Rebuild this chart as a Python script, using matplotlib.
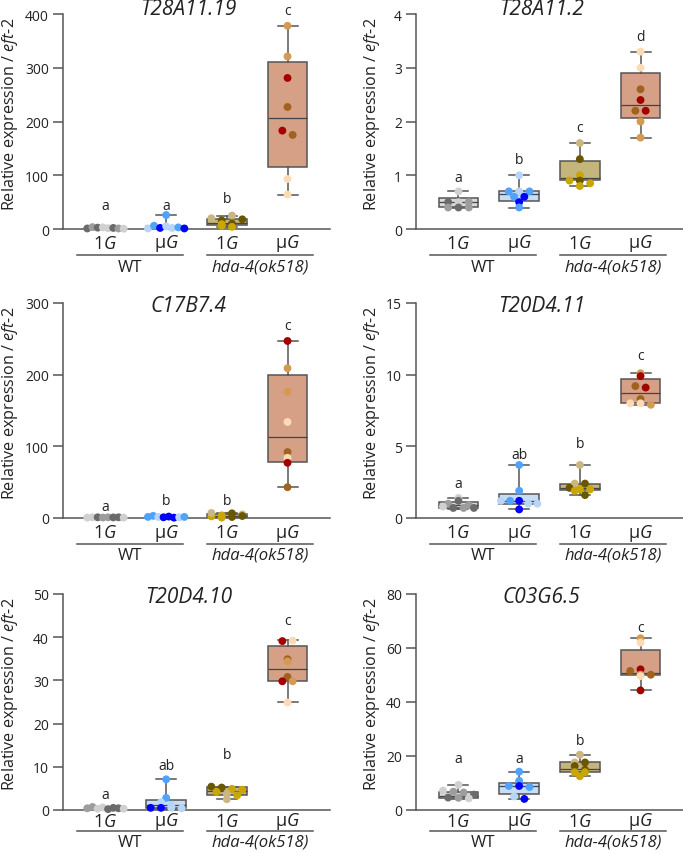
import numpy as np
import matplotlib
matplotlib.use("Agg")
import matplotlib.pyplot as plt

plt.rcParams['font.family'] = ['Open Sans', 'DejaVu Sans']
plt.rcParams['mathtext.fontset'] = 'custom'
plt.rcParams['mathtext.rm'] = 'Open Sans'
plt.rcParams['mathtext.it'] = 'Open Sans:italic'

# ---- data ----
groups = ['1$\\it{G}$', 'μ$\\it{G}$', '1$\\it{G}$', 'μ$\\it{G}$']
genotypes = ['WT', 'hda-4(ok518)']

titles = ['T28A11.19', 'T28A11.2', 'C17B7.4', 'T20D4.11', 'T20D4.10', 'C03G6.5']
y_max = [400, 4, 300, 15, 50, 80]
y_step = [100, 1, 100, 5, 10, 20]

# per panel: points of each group, replicate id of each point,
# box stats (min, q1, median, q3, max) and significance letters
t28a11_19_vals = [[1.0, 3.5, 2.5, 3.0, 1.5, 2.0, 1.0, 0.5],
                  [1, 6, 2, 26, 5, 2, 3, 1],
                  [6, 20, 16, 25, 9, 10, 18, 4],
                  [378, 321, 281, 227, 183, 175, 93, 64]]
t28a11_19_reps = [[0, 1, 0, 2, 2, 0, 1, 2], [2, 1, 0, 1, 2, 2, 1, 0],
                  [1, 2, 0, 2, 1, 0, 0, 1], [2, 2, 0, 1, 0, 1, 3, 3]]
t28a11_19_box = [[0.5, 1, 2, 3, 3.5], [1, 1.5, 2.5, 5, 26],
                 [4, 8, 12, 18, 25], [64, 115, 206, 310, 378]]
t28a11_19_letters = [('a', 43), ('a', 43), ('b', 56), ('c', 407)]

t28a11_2_vals = [[0.7, 0.5, 0.5, 0.5, 0.4, 0.4, 0.4],
                 [1.0, 0.7, 0.7, 0.7, 0.6, 0.6, 0.5, 0.4],
                 [1.6, 1.3, 1.0, 0.9, 0.9, 0.85, 0.8],
                 [3.3, 3.0, 2.6, 2.4, 2.2, 2.2, 2.0, 1.7]]
t28a11_2_reps = [[2, 0, 2, 1, 1, 0, 1], [2, 1, 2, 1, 1, 0, 0, 1],
                 [2, 0, 1, 1, 0, 1, 1], [3, 3, 1, 0, 1, 0, 2, 2]]
t28a11_2_box = [[0.4, 0.41, 0.5, 0.57, 0.7], [0.4, 0.53, 0.66, 0.7, 1.0],
                [0.8, 0.91, 0.95, 1.27, 1.6], [1.7, 2.06, 2.3, 2.9, 3.3]]
t28a11_2_letters = [('a', 0.95), ('b', 1.29), ('c', 1.89), ('d', 3.59)]

c17b7_4_vals = [[0.5, 1.0, 1.0, 0.6, 1.0, 0.8, 1.0, 0.5],
                [1.5, 3.0, 1.5, 1.0, 2.0, 0.5, 1.0, 1.5],
                [2.3, 7, 3.7, 6.5, 0.5, 5, 1.4, 2.8],
                [247, 209, 176, 134, 92, 84, 77, 43]]
c17b7_4_reps = [[2, 2, 0, 1, 1, 0, 0, 2], [1, 1, 2, 0, 0, 0, 2, 1],
                [1, 2, 1, 0, 1, 2, 0, 0], [0, 2, 2, 3, 1, 3, 0, 1]]
c17b7_4_box = [[0.5, 0.5, 0.9, 1.0, 1.0], [0.5, 1.0, 1.5, 1.8, 3.0],
               [0.5, 2, 3.2, 5.5, 7], [43, 78, 113, 200, 247]]
c17b7_4_letters = [('a', 16), ('b', 24.6), ('b', 24.6), ('c', 268)]

t20d4_11_vals = [[1.4, 1.0, 1.2, 0.9, 0.8, 0.7, 0.7, 0.7],
                 [3.7, 1.9, 1.2, 1.2, 1.2, 1.0, 1.0, 0.6],
                 [3.7, 2.4, 2.4, 2.1, 2.0, 2.0, 1.9, 1.6],
                 [10.1, 9.9, 9.2, 9.1, 8.3, 8.0, 8.0, 7.9]]
t20d4_11_reps = [[2, 1, 0, 1, 2, 0, 1, 0], [1, 1, 2, 1, 0, 2, 2, 0],
                 [2, 2, 0, 0, 1, 1, 1, 0], [2, 0, 1, 0, 1, 3, 3, 2]]
t20d4_11_box = [[0.65, 0.72, 0.88, 1.1, 1.4], [0.6, 1.0, 1.2, 1.67, 3.7],
                [1.6, 1.93, 2.1, 2.35, 3.7], [7.9, 8.03, 8.7, 9.68, 10.1]]
t20d4_11_letters = [('a', 2.39), ('ab', 4.43), ('b', 5.18), ('c', 11.33)]

t20d4_10_vals = [[0.4, 0.7, 0.3, 0.6, 0.2, 0.5, 0.4, 0.3],
                 [7.1, 2.8, 1.8, 1.2, 0.5, 0.5, 0.5, 0.4],
                 [5.4, 5.2, 4.9, 4.7, 4.2, 3.8, 3.4, 2.5],
                 [39.1, 39.2, 34.9, 34.4, 30.8, 29.8, 29.8, 24.9]]
t20d4_10_reps = [[1, 1, 2, 2, 0, 0, 0, 2], [1, 1, 2, 2, 0, 0, 2, 2],
                 [0, 0, 1, 1, 1, 2, 1, 2], [0, 3, 1, 2, 1, 0, 2, 3]]
t20d4_10_box = [[0.2, 0.3, 0.4, 0.6, 0.7], [0.3, 0.4, 1.2, 2.4, 7.1],
                [2.5, 3.55, 4.3, 5.25, 5.4], [24.9, 29.8, 32.6, 37.9, 39.3]]
t20d4_10_letters = [('a', 3.5), ('ab', 10.4), ('b', 12.9), ('c', 43.8)]

c03g6_5_vals = [[9.3, 7.2, 6.8, 6.5, 5.7, 4.6, 4.5, 4.3],
                [14.2, 10.8, 8.9, 8.9, 8.5, 5.0, 4.1],
                [20.5, 17.6, 17.6, 16.3, 14.9, 14.0, 14.0, 12.5],
                [63.6, 62.0, 52.1, 51.5, 50.1, 50.1, 49.6, 44.3]]
c03g6_5_reps = [[2, 2, 1, 1, 0, 0, 1, 2], [1, 1, 1, 0, 1, 2, 0],
                [2, 2, 0, 0, 0, 1, 1, 1], [2, 3, 0, 1, 2, 1, 3, 0]]
c03g6_5_box = [[4.2, 4.5, 5.3, 6.8, 9.3], [4.1, 5.8, 8.8, 10.1, 14.2],
               [12.5, 14.1, 15.3, 17.8, 20.5], [44.3, 49.9, 50.7, 59.3, 63.6]]
c03g6_5_letters = [('a', 19), ('a', 19), ('b', 25.8), ('c', 67.6)]

panel_vals = [t28a11_19_vals, t28a11_2_vals, c17b7_4_vals,
              t20d4_11_vals, t20d4_10_vals, c03g6_5_vals]
panel_reps = [t28a11_19_reps, t28a11_2_reps, c17b7_4_reps,
              t20d4_11_reps, t20d4_10_reps, c03g6_5_reps]
panel_box = [t28a11_19_box, t28a11_2_box, c17b7_4_box,
             t20d4_11_box, t20d4_10_box, c03g6_5_box]
panel_letters = [t28a11_19_letters, t28a11_2_letters, c17b7_4_letters,
                 t20d4_11_letters, t20d4_10_letters, c03g6_5_letters]

# ---- style ----
box_fill = ['#d9d9d9', '#c6ddf5', '#c4b57c', '#d6a086']
dot_colors = [['#6b6b6b', '#9d9d9d', '#d0d0d0'],
              ['#0000ff', '#4fa3ff', '#b7d6f7'],
              ['#6b5600', '#c9a700', '#c9b680'],
              ['#a40000', '#9f621f', '#d49a52', '#fddab6']]
line_col = '#555555'
text_col = '#222222'


def swarm_x(ax, ys, center):
    # spread points that fall in the same ~5 px row, like a column scatter
    px = ax.transData.transform(np.column_stack([np.full(len(ys), center), ys]))[:, 1]
    rows = np.round(px / 5.0)
    xs = np.full(len(ys), float(center))
    for r in np.unique(rows):
        idx = np.where(rows == r)[0]
        n = len(idx)
        step = min(0.17, 0.6 / max(n - 1, 1))
        xs[idx] = center + (np.arange(n) - (n - 1) / 2) * step
    return xs


fig = plt.figure(figsize=(6.83, 8.54), dpi=100)
W, H = 683.0, 854.0
left_px = [63, 416]
row_px = [(15, 230), (304, 519), (595, 811)]
# pixel offsets below the x axis: group label, underline, genotype label
row_below = [(14, 26, 38), (14, 26, 37), (11, 21, 32)]
label_x_px = [20, 382]   # right edge of the rotated y label
ax_w = 267
spans = [(-0.47, 1.28), (1.67, 3.42)]

for i in range(6):
    col, row = i % 2, i // 2
    top, zero = row_px[row]
    ax = fig.add_axes([left_px[col] / W, 1 - zero / H, ax_w / W, (zero - top) / H])
    ax.set_xlim(-0.7, 3.7)
    ax.set_ylim(0, y_max[i])
    ax.set_yticks(np.arange(0, y_max[i] + y_step[i] / 2, y_step[i]))
    ax.set_xticks([])
    for s in ['top', 'right']:
        ax.spines[s].set_visible(False)
    for s in ['left', 'bottom']:
        ax.spines[s].set_color(line_col)
        ax.spines[s].set_linewidth(1.1)
    ax.tick_params(axis='y', length=7, width=1.1, color=line_col,
                   labelsize=10, labelcolor=text_col, pad=3)
    ax.set_ylabel('Relative expression / $\\mathit{eft}$-$\\mathit{2}$',
                  fontsize=11.6, color=text_col)
    ax.yaxis.set_label_coords((label_x_px[col] - left_px[col]) / ax_w, 0.54)

    stats = [dict(whislo=b[0], q1=b[1], med=b[2], q3=b[3], whishi=b[4])
             for b in panel_box[i]]
    bp = ax.bxp(stats, positions=range(4), widths=0.65, capwidths=0.33,
                patch_artist=True, showfliers=False, manage_ticks=False,
                boxprops=dict(edgecolor=line_col, linewidth=1.1),
                medianprops=dict(color='#444444', linewidth=0.9),
                whiskerprops=dict(color=line_col, linewidth=1.1),
                capprops=dict(color=line_col, linewidth=1.1))
    for patch, fc in zip(bp['boxes'], box_fill):
        patch.set_facecolor(fc)

    for g in range(4):
        ys = np.array(panel_vals[i][g], dtype=float)
        xs = swarm_x(ax, ys, g)
        cols = [dot_colors[g][r] for r in panel_reps[i][g]]
        ax.scatter(xs, ys, s=32, c=cols, linewidths=0, zorder=4, clip_on=False)
        lab, ly = panel_letters[i][g]
        ax.text(g, ly, lab, ha='center', va='center', fontsize=10,
                color=text_col, clip_on=False)

    title_y = 1.0 if row == 0 else 0.963
    ax.text(0.47, title_y, titles[i], transform=ax.transAxes, ha='center',
            va='baseline', fontsize=15, fontstyle='italic', color=text_col)

    xt = ax.get_xaxis_transform()
    d_tick, d_line, d_geno = row_below[row]
    for g in range(4):
        ax.annotate(groups[g], xy=(g, 0), xycoords=xt, xytext=(0, -d_tick),
                    textcoords='offset pixels', ha='center', va='center',
                    fontsize=13, color=text_col, annotation_clip=False)
    for k, (x0, x1) in enumerate(spans):
        ax.annotate(genotypes[k], xy=((x0 + x1) / 2, 0), xycoords=xt,
                    xytext=(0, -d_geno), textcoords='offset pixels', ha='center',
                    va='center', fontsize=12, color=text_col,
                    fontstyle='italic' if k == 1 else 'normal',
                    annotation_clip=False)
        fx0 = fig.transFigure.inverted().transform(ax.transData.transform((x0, 0)))[0]
        fx1 = fig.transFigure.inverted().transform(ax.transData.transform((x1, 0)))[0]
        y_fig = 1 - (zero + d_line) / H
        fig.add_artist(plt.Line2D([fx0, fx1], [y_fig, y_fig], color=line_col, lw=1.1))

fig.savefig('out.png', dpi=100)
